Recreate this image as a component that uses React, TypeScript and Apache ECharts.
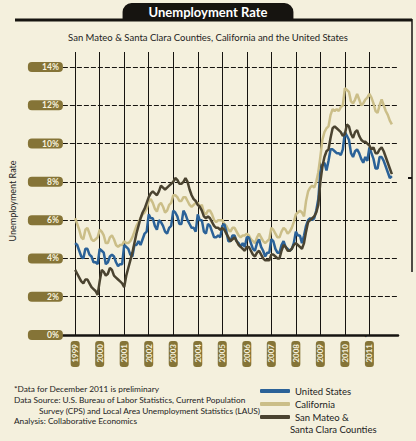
import { useEffect, useRef } from "react";
import * as echarts from "echarts";

// monthly, not seasonally adjusted, Jan 1999 .. Dec 2011
const years = [1999, 2000, 2001, 2002, 2003, 2004, 2005, 2006, 2007, 2008, 2009, 2010, 2011];

const usRate = [
  4.8, 4.7, 4.4, 4.1, 4.0, 4.5, 4.5, 4.2, 4.1, 3.8, 3.8, 3.7,
  4.5, 4.4, 4.3, 3.7, 3.8, 4.1, 4.2, 4.1, 3.8, 3.6, 3.7, 3.7,
  4.7, 4.6, 4.5, 4.2, 4.1, 4.7, 4.7, 4.9, 4.7, 5.0, 5.3, 5.4,
  6.3, 6.1, 6.1, 5.7, 5.5, 6.0, 5.9, 5.7, 5.4, 5.3, 5.6, 5.7,
  6.5, 6.4, 6.2, 5.8, 5.8, 6.5, 6.3, 6.0, 5.8, 5.6, 5.6, 5.4,
  6.3, 6.0, 6.0, 5.4, 5.3, 5.8, 5.7, 5.4, 5.1, 5.1, 5.2, 5.1,
  5.7, 5.8, 5.4, 4.9, 4.9, 5.2, 5.2, 4.9, 4.8, 4.6, 4.8, 4.6,
  5.1, 5.1, 4.8, 4.5, 4.4, 4.8, 5.0, 4.6, 4.4, 4.1, 4.3, 4.3,
  5.0, 4.9, 4.5, 4.3, 4.3, 4.7, 4.9, 4.6, 4.5, 4.4, 4.5, 4.8,
  5.4, 5.2, 5.2, 4.8, 5.2, 5.7, 6.0, 6.1, 6.0, 6.1, 6.5, 7.1,
  8.5, 8.9, 9.0, 8.6, 9.1, 9.7, 9.7, 9.6, 9.5, 9.5, 9.4, 9.7,
  10.6, 10.4, 10.2, 9.5, 9.3, 9.6, 9.7, 9.5, 9.2, 9.0, 9.3, 9.1,
  9.8, 9.5, 9.2, 8.7, 8.7, 9.3, 9.3, 9.1, 8.8, 8.5, 8.2, 8.3,
];

const californiaRate = [
  6.1, 5.8, 5.5, 5.1, 5.0, 5.5, 5.6, 5.3, 5.0, 4.9, 5.0, 5.1,
  5.5, 5.4, 5.2, 4.8, 4.8, 5.1, 5.2, 5.0, 4.7, 4.6, 4.7, 4.7,
  4.9, 4.8, 4.8, 4.9, 5.1, 5.4, 5.7, 5.9, 6.1, 6.3, 6.4, 6.6,
  7.0, 7.1, 6.9, 6.6, 6.45, 6.8, 6.9, 6.7, 6.4, 6.5, 6.8, 6.9,
  7.3, 7.3, 7.2, 7.0, 7.0, 7.2, 7.2, 7.0, 6.8, 6.7, 6.8, 6.9,
  6.9, 6.7, 6.8, 6.4, 6.3, 6.5, 6.5, 6.3, 6.0, 5.9, 6.0, 6.0,
  6.0, 5.8, 5.7, 5.5, 5.4, 5.6, 5.6, 5.4, 5.2, 5.1, 5.2, 5.2,
  5.3, 5.2, 5.0, 4.9, 4.8, 5.1, 5.3, 5.1, 4.9, 4.8, 4.9, 5.0,
  5.6, 5.5, 5.3, 5.1, 5.1, 5.4, 5.6, 5.5, 5.3, 5.4, 5.6, 5.9,
  6.3, 6.4, 6.5, 6.4, 6.2, 7.0, 7.5, 7.7, 7.8, 7.7, 8.0, 8.5,
  9.3, 10.2, 10.6, 10.8, 10.9, 11.5, 11.8, 11.7, 11.8, 11.7, 11.9, 12.0,
  12.9, 12.8, 12.7, 12.2, 12.1, 12.3, 12.6, 12.3, 12.0, 12.1, 12.3, 12.4,
  12.6, 12.4, 12.1, 11.7, 11.6, 12.0, 12.3, 12.0, 11.7, 11.5, 11.2, 11.0,
];

const countiesRate = [
  3.4, 3.2, 3.0, 2.8, 2.7, 2.9, 2.9, 2.7, 2.5, 2.4, 2.3, 2.1,
  2.8, 3.4, 3.3, 3.1, 3.2, 3.5, 3.4, 3.1, 3.0, 2.9, 2.8, 2.7,
  2.5, 3.1, 3.5, 3.9, 4.3, 4.8, 5.3, 5.7, 6.1, 6.4, 6.6, 6.9,
  7.2, 7.4, 7.5, 7.4, 7.3, 7.5, 7.8, 7.7, 7.6, 7.7, 7.8, 7.9,
  8.0, 8.2, 8.1, 7.9, 7.9, 8.0, 8.2, 8.0, 7.6, 7.3, 7.1, 7.0,
  6.8, 6.7, 6.5, 6.2, 6.1, 6.2, 6.1, 5.9, 5.7, 5.6, 5.6, 5.5,
  5.6, 5.5, 5.3, 5.1, 4.9, 5.0, 5.1, 4.9, 4.7, 4.6, 4.5, 4.4,
  4.6, 4.6, 4.4, 4.2, 4.1, 4.3, 4.4, 4.2, 4.0, 3.9, 3.9, 3.9,
  4.2, 4.2, 4.1, 4.0, 4.0, 4.4, 4.7, 4.6, 4.4, 4.4, 4.5, 4.7,
  4.8, 4.7, 4.6, 4.5, 4.8, 5.4, 5.9, 6.0, 6.1, 6.2, 6.4, 6.8,
  8.0, 8.8, 9.3, 9.6, 9.7, 10.3, 10.8, 10.9, 10.8, 10.7, 10.6, 10.4,
  10.5, 11.0, 10.9, 10.5, 10.3, 10.6, 10.7, 10.4, 10.2, 10.1, 10.1, 10.0,
  9.9, 9.7, 9.8, 9.5, 9.5, 9.7, 9.8, 9.6, 9.3, 9.0, 8.7, 8.4,
];

const notes = [
  "*Data for December 2011 is preliminary",
  "Data Source: U.S. Bureau of Labor Statistics, Current Population",
  "Survey (CPS) and Local Area Unemployment Statistics (LAUS)",
  "Analysis: Collaborative Economics",
];
const noteIndent = [0, 0, 25, 0];

const US = "United States";
const CA = "California";
const COUNTIES = "San Mateo & Santa Clara Counties";

// empty months either side so the grid runs past the data like the original
const leadMonths = 6;
const trailMonths = 3;

const months: string[] = [];
for (let m = 13 - leadMonths; m <= 12; m++) months.push(`${years[0] - 1}-${m}`);
years.forEach((y) => {
  for (let m = 1; m <= 12; m++) months.push(`${y}-${m}`);
});
for (let m = 1; m <= trailMonths; m++) months.push(`${years[years.length - 1] + 1}-${m}`);

const pad = (values: number[]) => [
  ...Array(leadMonths).fill(null),
  ...values,
  ...Array(trailMonths).fill(null),
];

const isYearStart = (i: number) =>
  i >= leadMonths && i < leadMonths + years.length * 12 && (i - leadMonths) % 12 === 0;

const INK = "#161410";
const OLIVE = "#857437";
const FONT = "Lato, 'Noto Sans', sans-serif";

export default function App() {
  const ref = useRef<HTMLDivElement | null>(null);

  useEffect(() => {
    document.body.style.margin = "0";
    const el = ref.current;
    if (el === null) return;
    const chart = echarts.init(el, null, { renderer: "svg" });

    chart.setOption({
      animation: false,
      backgroundColor: "#f4f0dd",
      textStyle: { fontFamily: FONT },
      title: [
        {
          text: "Unemployment Rate",
          left: "center",
          top: 3,
          backgroundColor: INK,
          borderRadius: [9, 9, 0, 0],
          padding: [2, 26, 2, 26],
          textStyle: { color: "#ffffff", fontSize: 13, fontWeight: "bold", fontFamily: FONT },
        },
        {
          text: "San Mateo & Santa Clara Counties, California and the United States",
          left: "center",
          top: 27,
          textStyle: { color: "#222", fontSize: 9.5, fontWeight: "normal", fontFamily: FONT },
        },
      ],
      legend: {
        orient: "vertical",
        left: 255,
        top: 380.5,
        height: 60,
        itemWidth: 30,
        itemHeight: 4,
        itemGap: 2,
        icon: "roundRect",
        selectedMode: false,
        data: [US, CA, COUNTIES],
        // second line of the counties label is added as a graphic text below
        formatter: (n: string) => (n === COUNTIES ? "San Mateo &" : n),
        textStyle: { color: "#222", fontSize: 9.5, fontFamily: FONT, lineHeight: 11 },
      },
      grid: { left: 62, right: 18, top: 67, bottom: 106 },
      xAxis: [
        {
          type: "category",
          data: months,
          boundaryGap: false,
          axisLine: { lineStyle: { color: INK, width: 2.5 } },
          // year gridlines drawn as full-height inside ticks
          axisTick: {
            show: true,
            inside: true,
            length: 268,
            interval: (i: number) => isYearStart(i),
            lineStyle: { color: INK, width: 1 },
          },
          axisLabel: {
            interval: (i: number) => isYearStart(i),
            formatter: (v: string) => v.slice(0, 4),
            rotate: 90,
            margin: 6,
            color: "#f7f2df",
            fontSize: 8,
            fontWeight: "bold",
            fontFamily: FONT,
            backgroundColor: OLIVE,
            borderRadius: 3,
            width: 20,
            padding: [1, 3, 0, 3],
          },
          splitLine: { show: false },
        },
        {
          type: "category",
          data: months,
          position: "top",
          boundaryGap: false,
          axisLine: { show: false },
          axisTick: {
            show: true,
            interval: (i: number) => isYearStart(i),
            length: 15,
            lineStyle: { color: INK, width: 1 },
          },
          axisLabel: { show: false },
          splitLine: { show: false },
        },
      ],
      yAxis: {
        type: "value",
        min: 0,
        max: 14,
        interval: 2,
        name: "Unemployment Rate",
        nameLocation: "middle",
        nameGap: 44,
        nameTextStyle: { color: "#222", fontSize: 9, fontFamily: FONT },
        axisLine: { show: false },
        axisTick: { show: false },
        axisLabel: {
          formatter: "{value}%",
          margin: 0,
          color: "#f7f2df",
          fontSize: 8.5,
          fontWeight: "bold",
          fontFamily: FONT,
          backgroundColor: OLIVE,
          borderRadius: 4,
          width: 27,
          align: "right",
          padding: [1, 4, 0, 4],
        },
        splitLine: { lineStyle: { color: INK, width: 1, type: [5, 2] } },
      },
      series: [
        {
          name: CA,
          type: "line",
          data: pad(californiaRate),
          showSymbol: false,
          lineStyle: { width: 2.5, color: "#cbbe88" },
          itemStyle: { color: "#cbbe88" },
        },
        {
          name: US,
          type: "line",
          data: pad(usRate),
          showSymbol: false,
          lineStyle: { width: 2.5, color: "#2b6298" },
          itemStyle: { color: "#2b6298" },
        },
        {
          name: COUNTIES,
          type: "line",
          data: pad(countiesRate),
          showSymbol: false,
          lineStyle: { width: 2.5, color: "#4a4330" },
          itemStyle: { color: "#4a4330" },
        },
      ],
      graphic: [
        { type: "line", z: -1, shape: { x1: 15, y1: 20, x2: 412, y2: 20 }, style: { stroke: INK, lineWidth: 3 } },
        { type: "line", shape: { x1: 412, y1: 19, x2: 412, y2: 272 }, style: { stroke: INK, lineWidth: 1.5 } },
        { type: "line", shape: { x1: 408, y1: 178, x2: 412, y2: 178 }, style: { stroke: INK, lineWidth: 2 } },
        { type: "text", x: 364, y: 334, style: { text: "*", fill: "#333", fontSize: 8, fontFamily: FONT } },
        {
          type: "text",
          x: 290,
          y: 429.5,
          style: { text: "Santa Clara Counties", fill: "#222", fontSize: 9.5, fontFamily: FONT, verticalAlign: "middle" },
        },
        ...notes.map((t, i) => ({
          type: "text",
          x: 14 + noteIndent[i],
          y: 389 + i * 10.8,
          style: { text: t, fill: "#222", fontSize: 8.3, fontFamily: FONT, verticalAlign: "middle" },
        })),
      ],
    });

    return () => chart.dispose();
  }, []);

  return <div ref={ref} style={{ width: 416, height: 441 }} />;
}
